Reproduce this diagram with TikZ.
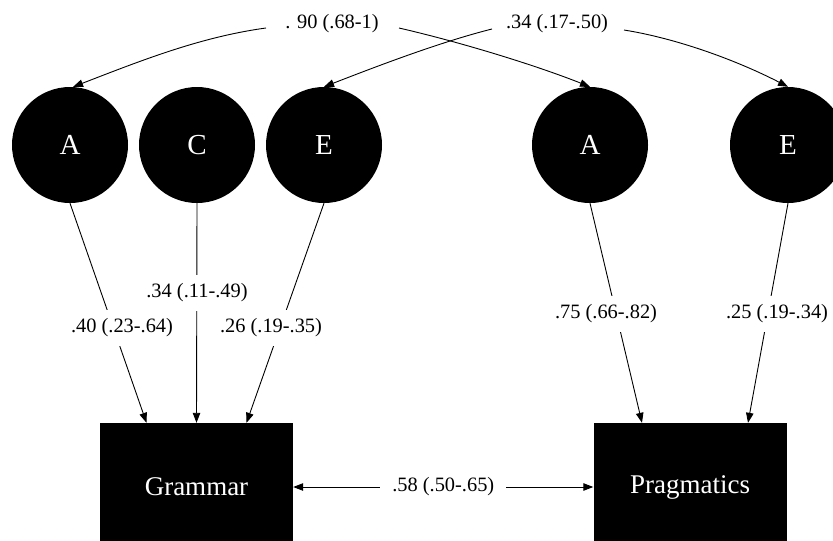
\documentclass[tikz,border=0pt]{standalone}
\usepackage{fontspec}
\setmainfont{Liberation Serif}
\usetikzlibrary{arrows.meta}
\begin{document}
\begin{tikzpicture}[x=1pt,y=-1pt,
  >={Triangle[length=10pt,width=7.5pt]},
  latent/.style={circle,fill=black,draw=none,minimum size=116pt,inner sep=0pt,text=white,font=\fontsize{29}{34}\selectfont},
  observed/.style={rectangle,fill=black,draw=none,minimum width=193pt,minimum height=128pt,inner sep=0pt,text=white,font=\fontsize{27}{32}\selectfont},
  lbl/.style={fill=white,inner xsep=12pt,inner ysep=9pt,font=\fontsize{20.4}{24}\selectfont},
  toplbl/.style={inner sep=0pt,font=\fontsize{20.4}{24}\selectfont},
  link/.style={line width=0.9pt,->},
  biarrow/.style={line width=0.9pt,<->}]
\useasboundingbox (0,0) rectangle (833,541);
\clip (0,0) rectangle (833,541);
\fill[white] (0,0) rectangle (833,541);

% latent factors
\node[latent] (gA) at (70,145) {A};
\node[latent] (gC) at (197,145) {C};
\node[latent] (gE) at (324,145) {E};
\node[latent] (pA) at (590,145) {A};
\node[latent] (pE) at (788,145) {E};

% observed
\node[observed] (G) at (196.5,487) {Grammar};
\node[observed] (P) at (690,487) {Pragmatics};

% top correlation labels
\node[toplbl] (l90) at (332,24) {. 90 (.68-1)};
\node[toplbl] (l34) at (557,24) {.34 (.17-.50)};
\coordinate (l90w) at (266,28);
\coordinate (l90e) at (399,28);
\coordinate (l34w) at (492,29);
\coordinate (l34e) at (624,30);

\draw[link] (l90w) .. controls (200,37) and (140,61) .. (gA.87);
\draw[link] (l90e) .. controls (460,42) and (535,65) .. (pA.north);
\draw[link] (l34w) .. controls (440,42) and (375,67) .. (gE.north);
\draw[link] (l34e) .. controls (680,39) and (740,62) .. (pE.north);

% paths
\draw[link] (gA.south) -- ([xshift=-50pt]G.north);
\draw[link] (gC.south) -- (G.north);
\draw[link] (gE.south) -- ([xshift=50pt]G.north);
\draw[link] (pA.south) -- ([xshift=-48pt]P.north);
\draw[link] (pE.south) -- ([xshift=58pt]P.north);

\node[lbl] (lA) at (122,328) {.40 (.23-.64)};
\node[lbl] (lC) at (197,293) {.34 (.11-.49)};
\node[lbl] (lE) at (271,328) {.26 (.19-.35)};
\node[lbl] (lpA) at (606,314) {.75 (.66-.82)};
\node[lbl] (lpE) at (777,314) {.25 (.19-.34)};

% phenotypic correlation
\draw[biarrow] (G.east) -- node[lbl] (l58) {.58 (.50-.65)} (P.west);
\end{tikzpicture}
\end{document}
